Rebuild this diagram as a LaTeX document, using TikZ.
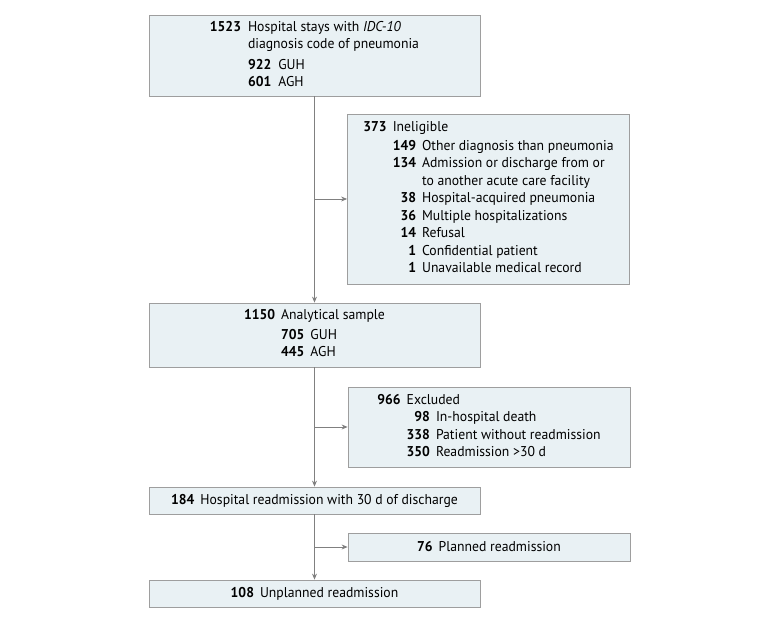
\documentclass[tikz,border=0pt]{standalone}
\usepackage{fontspec}
\setmainfont[FakeStretch=0.965]{PT Sans}
\usetikzlibrary{arrows.meta}
\definecolor{boxfill}{HTML}{E9F1F4}
\definecolor{boxline}{HTML}{9E9E9E}
\definecolor{conn}{HTML}{808080}
\newcommand\nm[1]{\textbf{#1}}
\newcommand\lbl[1]{\multicolumn{2}{@{}l@{}}{#1}}
\tikzset{
  flowbox/.style={draw=boxline, fill=boxfill, line width=0.8pt, inner sep=0pt, align=center,
    font=\fontsize{14.2}{17.5}\selectfont},
  mainbox/.style={flowbox, minimum width=331pt},
  sidebox/.style={flowbox, minimum width=282pt},
  conline/.style={draw=conn, line width=0.8pt},
  conarrow/.style={conline, -{Stealth[length=6pt,width=5pt]}}
}
\begin{document}
\begin{tikzpicture}[x=1pt,y=-1pt]
\useasboundingbox (0,0) rectangle (780,620);
\fill[white] (0,0) rectangle (780,620);

\node[mainbox, minimum height=81pt] (b1) at (314.5,55.5) {%
\begin{tabular}{@{}r@{\hspace{7pt}}r@{\hspace{7pt}}l@{}}
\nm{1523} & \lbl{Hospital stays with \textit{IDC-10}}\\
 & \lbl{diagnosis code of pneumonia}\\[3pt]
 & \nm{922} & GUH\\
 & \nm{601} & AGH
\end{tabular}};

\node[sidebox, minimum height=170pt] (b2) at (488.5,199) {%
\begin{tabular}{@{}r@{\hspace{6pt}}r@{\hspace{6pt}}l@{}}
\nm{373} & \lbl{Ineligible}\\[1pt]
 & \nm{149} & Other diagnosis than pneumonia\\
 & \nm{134} & Admission or discharge from or\\
 &  & to another acute care facility\\
 & \nm{38} & Hospital-acquired pneumonia\\
 & \nm{36} & Multiple hospitalizations\\
 & \nm{14} & Refusal\\
 & \nm{1} & Confidential patient\\
 & \nm{1} & Unavailable medical record
\end{tabular}};

\node[mainbox, minimum height=64pt] (b3) at (314.5,335) {%
\begin{tabular}{@{}r@{\hspace{6pt}}r@{\hspace{6pt}}l@{}}
\nm{1150} & \lbl{Analytical sample}\\[2pt]
 & \nm{705} & GUH\\
 & \nm{445} & AGH
\end{tabular}};

\node[sidebox, minimum height=80pt] (b4) at (489,427) {%
\begin{tabular}{@{}r@{\hspace{6pt}}r@{\hspace{6pt}}l@{}}
\nm{966} & \lbl{Excluded}\\
 & \nm{98} & In-hospital death\\
 & \nm{338} & Patient without readmission\\
 & \nm{350} & Readmission >30 d
\end{tabular}};

\node[mainbox, minimum height=27pt] (b5) at (314.5,500.5) {\nm{184}\hspace{6pt}Hospital readmission with 30 d of discharge};
\node[sidebox, minimum height=28pt] (b6) at (489,547) {\nm{76}\hspace{6pt}Planned readmission};
\node[mainbox, minimum height=27pt] (b7) at (314.5,593.5) {\nm{108}\hspace{6pt}Unplanned readmission};

\coordinate (j1) at (b1.south |- b2.west);
\coordinate (j2) at (b3.south |- b4.west);
\coordinate (j3) at (b5.south |- b6.west);

\draw[conarrow] (b1.south) -- (b3.north);
\draw[conarrow] (j1) -- (b2.west);
\draw[conarrow] (b3.south) -- (b5.north);
\draw[conarrow] (j2) -- (b4.west);
\draw[conarrow] (b5.south) -- (b7.north);
\draw[conarrow] (j3) -- (b6.west);
\end{tikzpicture}
\end{document}
